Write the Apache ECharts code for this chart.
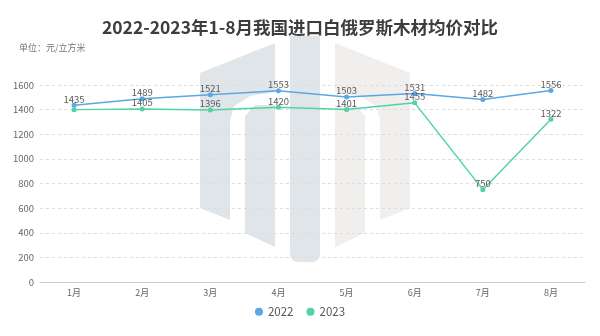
<!DOCTYPE html>
<html>
<head>
<meta charset="utf-8">
<script src="https://cdn.jsdelivr.net/npm/echarts@6/dist/echarts.min.js"></script>
<style>
  html, body { margin: 0; padding: 0; background: #ffffff; }
  #chart { width: 600px; height: 336px; }
</style>
</head>
<body>
<div id="chart"></div>
<script>
// Monthly average import price of Belarusian timber (yuan per cubic metre)
const months = ['1月', '2月', '3月', '4月', '5月', '6月', '7月', '8月'];
const price2022 = [1435, 1489, 1521, 1553, 1503, 1531, 1482, 1556];
const price2023 = [1400, 1405, 1396, 1420, 1401, 1455, 750, 1322];
const yTicks = { min: 0, max: 1600, interval: 200 };

const FONT = '"Noto Sans CJK SC", "Noto Sans", sans-serif';
const chart = echarts.init(document.getElementById('chart'), null, { renderer: 'canvas' });

// Faint logo behind the plot
const blueGrey = '#dfe5e8';
const warmGrey = '#f0efed';
const logo = [
  // left outer arm
  { type: 'polygon', shape: { points: [[275, 43], [275, 92], [250, 96], [234, 106], [230, 120], [230, 220], [200, 208], [200, 73]] }, style: { fill: blueGrey } },
  // left inner column
  { type: 'polygon', shape: { points: [[255, 105], [275, 105], [275, 247], [245, 233], [245, 116]] }, style: { fill: blueGrey } },
  // centre column
  { type: 'rect', shape: { x: 290, y: 36, width: 30, height: 226, r: [0, 0, 8, 8] }, style: { fill: blueGrey } },
  // right inner column
  { type: 'polygon', shape: { points: [[335, 105], [355, 105], [365, 116], [365, 233], [335, 247]] }, style: { fill: warmGrey } },
  // right outer arm
  { type: 'polygon', shape: { points: [[335, 43], [410, 73], [410, 208], [380, 220], [380, 120], [376, 106], [360, 96], [335, 92]] }, style: { fill: warmGrey } }
].map(g => Object.assign(g, { z: -10, silent: true }));

const pointLabel = { show: true, position: 'top', distance: -1, fontFamily: FONT, fontSize: 9.5, color: '#5a5a5a' };

const option = {
  backgroundColor: '#ffffff',
  textStyle: { fontFamily: FONT },
  title: [
    {
      text: '2022-2023年1-8月我国进口白俄罗斯木材均价对比',
      left: 'center',
      top: 14,
      textStyle: { fontFamily: FONT, fontSize: 17.5, fontWeight: 'bold', color: '#3d3d3d' }
    },
    {
      text: '单位：元/立方米',
      left: 14,
      top: 38,
      textStyle: { fontFamily: FONT, fontSize: 9, fontWeight: 'normal', color: '#777777' }
    }
  ],
  graphic: logo,
  legend: {
    top: 301,
    left: 'center',
    icon: 'circle',
    itemWidth: 8,
    itemHeight: 8,
    itemGap: 13,
    textStyle: { fontFamily: FONT, fontSize: 11.5, color: '#555555' },
    data: ['2022', '2023']
  },
  grid: { left: 40, right: 15, top: 85, bottom: 54 },
  xAxis: {
    type: 'category',
    data: months,
    boundaryGap: true,
    axisLine: { lineStyle: { color: '#cccccc' } },
    axisTick: { alignWithLabel: true, length: 4, lineStyle: { color: '#cccccc' } },
    axisLabel: { fontFamily: FONT, fontSize: 9, color: '#666666', margin: 6 }
  },
  yAxis: {
    type: 'value',
    min: yTicks.min,
    max: yTicks.max,
    interval: yTicks.interval,
    axisLine: { show: false },
    axisTick: { show: false },
    axisLabel: { fontFamily: FONT, fontSize: 9.5, color: '#666666', margin: 6, formatter: v => String(v) },
    splitLine: { lineStyle: { color: '#dddddd', type: [3, 3] } }
  },
  series: [
    {
      name: '2022',
      type: 'line',
      data: price2022,
      color: '#5ba7e6',
      symbol: 'circle',
      symbolSize: 5,
      lineStyle: { width: 1.5 },
      label: pointLabel
    },
    {
      name: '2023',
      type: 'line',
      data: price2023.map((v, i) => i === 0 ? { value: v, label: { show: false } } : v),
      color: '#52d3a6',
      symbol: 'circle',
      symbolSize: 5,
      lineStyle: { width: 1.5 },
      label: pointLabel
    }
  ]
};

chart.setOption(option);
</script>
</body>
</html>
